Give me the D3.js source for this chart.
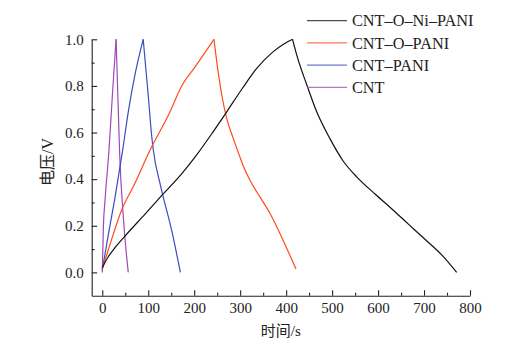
<!DOCTYPE html>
<html>
<head>
<meta charset="utf-8">
<script src="https://cdn.jsdelivr.net/npm/d3@7"></script>
<style>
  html, body { margin: 0; padding: 0; background: #fff; }
  svg { display: block; }
  text { font-family: "Liberation Serif", "Times New Roman", "Noto Sans CJK SC", serif; fill: #222; }
</style>
</head>
<body>
<svg id="chart" width="521" height="357"></svg>
<script>
// ---- data (time in s, voltage in V) ----
const seriesNames = ["CNT–O–Ni–PANI", "CNT–O–PANI", "CNT–PANI", "CNT"];
const seriesColors = ["#111111", "#ff4a1c", "#3a4cc0", "#a347b8"];

const niPaniTime = [0, 13, 27.6, 49.4, 93, 129, 174, 205, 240, 270.7, 305, 336, 372, 395, 414,
                    423, 445, 466.5, 495, 524, 553.5, 594, 630, 666, 702, 738.5, 771];
const niPaniVolt = [0.02, 0.067, 0.106, 0.156, 0.25, 0.329, 0.426, 0.503, 0.6, 0.689, 0.79, 0.875, 0.947, 0.98, 1.0,
                    0.933, 0.804, 0.689, 0.575, 0.478, 0.41, 0.335, 0.272, 0.207, 0.142, 0.075, 0.0];

const oPaniTime = [0, 13, 42, 71, 104, 144, 174, 202, 243,
                   249, 260, 270.7, 285, 298, 307, 321, 343, 365, 386.6, 408, 421.5];
const oPaniVolt = [0.015, 0.096, 0.267, 0.382, 0.525, 0.675, 0.804, 0.882, 1.0,
                   0.904, 0.761, 0.661, 0.575, 0.503, 0.455, 0.396, 0.324, 0.253, 0.167, 0.074, 0.015];

const paniTime = [0, 13, 27.6, 44, 56.6, 71, 89, 100, 107.5, 111, 127, 151, 170];
const paniVolt = [0.01, 0.16, 0.32, 0.52, 0.689, 0.847, 1.0, 0.76, 0.585, 0.525, 0.37, 0.18, 0.0];

const cntTime = [0, 2.5, 6, 14.6, 22, 30, 34, 38, 45.7, 51, 56.6];
const cntVolt = [0.0, 0.2, 0.31, 0.525, 0.76, 1.0, 0.75, 0.5, 0.24, 0.11, 0.0];

const xMajorTicks = [0, 100, 200, 300, 400, 500, 600, 700, 800];
const xMinorTicks = [50, 150, 250, 350, 450, 550, 650, 750];
const yMajorTicks = [0.0, 0.2, 0.4, 0.6, 0.8, 1.0];
const yMinorTicks = [0.1, 0.3, 0.5, 0.7, 0.9];
const xTitle = "时间/s";
const yTitle = "电压/V";

// ---- chart ----
const svg = d3.select("#chart");
const x = d3.scaleLinear().domain([-23, 800]).range([91.7, 470]);
const y = d3.scaleLinear().domain([-0.1, 1.0]).range([295.7, 39.3]);

const series = [
  { t: niPaniTime, v: niPaniVolt },
  { t: oPaniTime, v: oPaniVolt },
  { t: paniTime, v: paniVolt },
  { t: cntTime, v: cntVolt }
].map((s, i) => ({
  name: seriesNames[i], color: seriesColors[i],
  pts: s.t.map((t, j) => ({ t, v: s.v[j] }))
}));

const line = d3.line().x(d => x(d.t)).y(d => y(d.v)).curve(d3.curveMonotoneX);

const plot = svg.append("g");
series.slice().reverse().forEach(s => {
  const peak = d3.maxIndex(s.pts, d => d.v);
  const charge = s.pts.slice(0, peak + 1);
  const discharge = s.pts.slice(peak);
  [charge, discharge].forEach(seg => {
    plot.append("path")
      .attr("d", line(seg))
      .attr("fill", "none")
      .attr("stroke", s.color)
      .attr("stroke-width", 1.2)
      .attr("stroke-linejoin", "miter");
  });
});

// axes
const fontSize = 15;
svg.append("g").attr("transform", `translate(0,${y(-0.1)})`)
  .call(d3.axisBottom(x).tickValues(xMajorTicks).tickSizeInner(-5.5).tickSizeOuter(0)
        .tickPadding(7).tickFormat(d3.format("d")));
svg.append("g").attr("transform", `translate(0,${y(-0.1)})`)
  .call(d3.axisBottom(x).tickValues(xMinorTicks).tickSizeInner(-3).tickSizeOuter(0).tickFormat(""))
  .select(".domain").remove();

svg.append("g").attr("transform", `translate(${x(-23)},0)`)
  .call(d3.axisLeft(y).tickValues(yMajorTicks).tickSizeInner(-5.5).tickSizeOuter(0)
        .tickPadding(8).tickFormat(d3.format(".1f")));
svg.append("g").attr("transform", `translate(${x(-23)},0)`)
  .call(d3.axisLeft(y).tickValues(yMinorTicks).tickSizeInner(-3).tickSizeOuter(0).tickFormat(""))
  .select(".domain").remove();

svg.selectAll(".domain, .tick line").attr("stroke", "#222").attr("stroke-width", 1.1);
svg.selectAll(".tick text")
  .attr("font-family", '"Liberation Serif", "Times New Roman", serif')
  .attr("font-size", fontSize).attr("fill", "#222");

// axis titles
svg.append("text")
  .attr("x", (x(-23) + x(800)) / 2).attr("y", 336)
  .attr("text-anchor", "middle").attr("font-size", 15)
  .text(xTitle);
svg.append("text")
  .attr("transform", `translate(53,162) rotate(-90)`)
  .attr("text-anchor", "middle").attr("font-size", 16)
  .text(yTitle);

// legend
const legend = svg.append("g");
series.forEach((s, i) => {
  const ly = 20.7 + i * 22.2;
  legend.append("line")
    .attr("x1", 307).attr("x2", 347).attr("y1", ly).attr("y2", ly)
    .attr("stroke", s.color).attr("stroke-width", 1.2).attr("stroke-opacity", 0.75);
  legend.append("text")
    .attr("x", 352).attr("y", ly).attr("dy", "0.35em")
    .attr("font-size", 16.3).text(s.name);
});
</script>
</body>
</html>
